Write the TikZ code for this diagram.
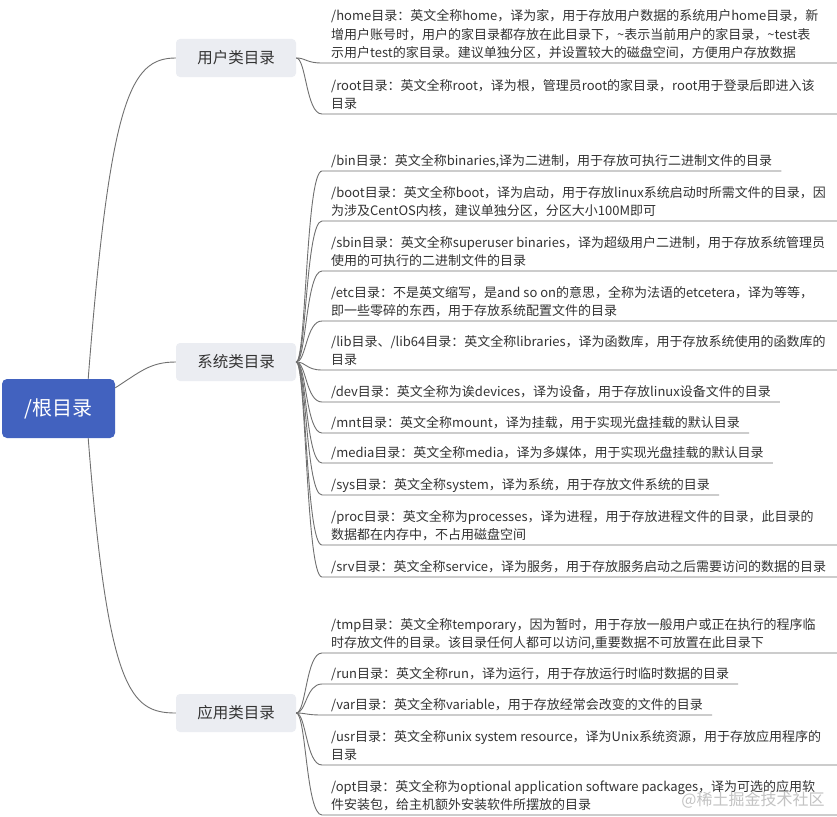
\documentclass[tikz,border=0pt]{standalone}
\usepackage{fontspec}
\newfontfamily\cjk{Noto Sans CJK SC}
\definecolor{rootblue}{RGB}{66,98,191}
\definecolor{catgray}{RGB}{235,237,242}
\definecolor{textdark}{RGB}{51,51,51}
\definecolor{linegray}{RGB}{112,112,112}
\definecolor{wmgray}{RGB}{195,195,195}
\begin{document}
\begin{tikzpicture}[x=1pt,y=-1pt,
  rootbox/.style={fill=rootblue, rounded corners=5pt, minimum width=113pt, minimum height=59pt, text=white, font=\cjk\fontsize{20}{24}\selectfont, inner sep=0pt},
  catbox/.style={fill=catgray, rounded corners=4pt, minimum width=120pt, minimum height=38pt, text=textdark, font=\cjk\fontsize{15.5}{18}\selectfont, inner sep=0pt},
  leaf/.style={anchor=south west, align=left, inner xsep=9pt, inner ysep=1.5pt, text depth=3.5pt, text=textdark, font=\cjk\fontsize{13}{18.5}\selectfont},
  link/.style={draw=linegray, line width=0.9pt},
  wmark/.style={text=wmgray, font=\cjk\fontsize{16}{18}\selectfont, inner sep=0pt}]
\fill[white] (0,0) rectangle (837,816);
\useasboundingbox (0,0) rectangle (837,816);
\coordinate (R) at (837,0);
% root and categories
\node[rootbox] (root) at (58.5,408.5) {/根目录};
\node[catbox] (cu) at (236,58) {用户类目录};
\node[catbox] (cs) at (236,362) {系统类目录};
\node[catbox] (ca) at (236,713) {应用类目录};
% leaves: user
\node[leaf] (lhome) at (322,63) {/home目录：英文全称home，译为家，用于存放用户数据的系统用户home目录，新\\增用户账号时，用户的家目录都存放在此目录下，\textasciitilde 表示当前用户的家目录，\textasciitilde test表\\示用户test的家目录。建议单独分区，并设置较大的磁盘空间，方便用户存放数据};
\node[leaf] (lroot) at (322,114) {/root目录：英文全称root，译为根，管理员root的家目录，root用于登录后即进入该\\目录};
% leaves: system
\node[leaf] (lbin) at (322,171) {/bin目录：英文全称binaries,译为二进制，用于存放可执行二进制文件的目录};
\node[leaf] (lboot) at (322,221) {/boot目录：英文全称boot，译为启动，用于存放linux系统启动时所需文件的目录，因\\为涉及CentOS内核，建议单独分区，分区大小100M即可};
\node[leaf] (lsbin) at (322,271) {/sbin目录：英文全称superuser binaries，译为超级用户二进制，用于存放系统管理员\\使用的可执行的二进制文件的目录};
\node[leaf] (letc) at (322,321) {/etc目录：不是英文缩写，是and so on的意思，全称为法语的etcetera，译为等等，\\即一些零碎的东西，用于存放系统配置文件的目录};
\node[leaf] (llib) at (322,370) {/lib目录、/lib64目录：英文全称libraries，译为函数库，用于存放系统使用的函数库的\\目录};
\node[leaf] (ldev) at (322,402) {/dev目录：英文全称为诶devices，译为设备，用于存放linux设备文件的目录};
\node[leaf] (lmnt) at (322,433) {/mnt目录：英文全称mount，译为挂载，用于实现光盘挂载的默认目录};
\node[leaf] (lmedia) at (322,463) {/media目录：英文全称media，译为多媒体，用于实现光盘挂载的默认目录};
\node[leaf] (lsys) at (322,495) {/sys目录：英文全称system，译为系统，用于存放文件系统的目录};
\node[leaf] (lproc) at (322,545) {/proc目录：英文全称为processes，译为进程，用于存放进程文件的目录，此目录的\\数据都在内存中，不占用磁盘空间};
\node[leaf] (lsrv) at (322,577) {/srv目录：英文全称service，译为服务，用于存放服务启动之后需要访问的数据的目录};
% leaves: application
\node[leaf] (ltmp) at (322,653) {/tmp目录：英文全称temporary，因为暂时，用于存放一般用户或正在执行的程序临\\时存放文件的目录。该目录任何人都可以访问,重要数据不可放置在此目录下};
\node[leaf] (lrun) at (322,684) {/run目录：英文全称run，译为运行，用于存放运行时临时数据的目录};
\node[leaf] (lvar) at (322,715) {/var目录：英文全称variable，用于存放经常会改变的文件的目录};
\node[leaf] (lusr) at (322,765) {/usr目录：英文全称unix system resource，译为Unix系统资源，用于存放应用程序的\\目录};
\node[leaf] (lopt) at (322,815) {/opt目录：英文全称为optional application software packages，译为可选的应用软\\件安装包，给主机额外安装软件所摆放的目录};
% root connectors
\draw[link] (root.45) .. controls (110,100) and (130,58) .. (cu.west);
\draw[link] (root.20) .. controls (140,372) and (150,362) .. (cs.west);
\draw[link] (root.-45) .. controls (108,690) and (130,713) .. (ca.west);
% user connectors
\draw[link] (cu.east) .. controls +(10,0) and +(-16,0) .. (lhome.south west) -- (lhome.south west -| R);
\draw[link] (cu.east) .. controls +(10,0) and +(-16,0) .. (lroot.south west) -- (lroot.south west -| R);
% system connectors
\draw[link] (cs.east) .. controls +(10,0) and +(-16,0) .. (lbin.south west) -- (lbin.south east);
\draw[link] (cs.east) .. controls +(10,0) and +(-16,0) .. (lboot.south west) -- (lboot.south west -| R);
\draw[link] (cs.east) .. controls +(10,0) and +(-16,0) .. (lsbin.south west) -- (lsbin.south west -| R);
\draw[link] (cs.east) .. controls +(10,0) and +(-16,0) .. (letc.south west) -- (letc.south west -| R);
\draw[link] (cs.east) .. controls +(10,0) and +(-16,0) .. (llib.south west) -- (llib.south west -| R);
\draw[link] (cs.east) .. controls +(10,0) and +(-16,0) .. (ldev.south west) -- (ldev.south east);
\draw[link] (cs.east) .. controls +(10,0) and +(-16,0) .. (lmnt.south west) -- (lmnt.south east);
\draw[link] (cs.east) .. controls +(10,0) and +(-16,0) .. (lmedia.south west) -- (lmedia.south east);
\draw[link] (cs.east) .. controls +(10,0) and +(-16,0) .. (lsys.south west) -- (lsys.south east);
\draw[link] (cs.east) .. controls +(10,0) and +(-16,0) .. (lproc.south west) -- (lproc.south west -| R);
\draw[link] (cs.east) .. controls +(10,0) and +(-16,0) .. (lsrv.south west) -- (lsrv.south west -| R);
% application connectors
\draw[link] (ca.east) .. controls +(10,0) and +(-16,0) .. (ltmp.south west) -- (ltmp.south west -| R);
\draw[link] (ca.east) .. controls +(10,0) and +(-16,0) .. (lrun.south west) -- (lrun.south east);
\draw[link] (ca.east) .. controls +(10,0) and +(-16,0) .. (lvar.south west) -- (lvar.south east);
\draw[link] (ca.east) .. controls +(10,0) and +(-16,0) .. (lusr.south west) -- (lusr.south west -| R);
\draw[link] (ca.east) .. controls +(10,0) and +(-16,0) .. (lopt.south west) -- (lopt.south west -| R);
% watermark
\node[wmark] (wm) at (753,800) {@稀土掘金技术社区};
\end{tikzpicture}
\end{document}
